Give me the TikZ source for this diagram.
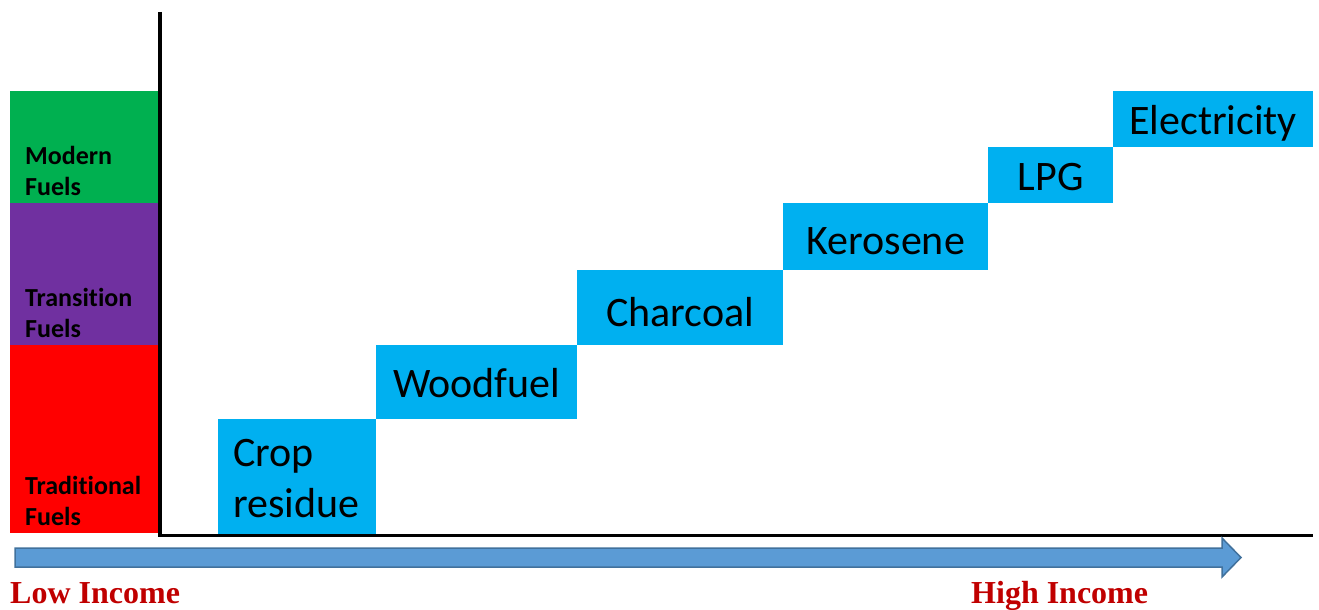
\documentclass[tikz,border=0pt]{standalone}
\usepackage{fontspec}
\newfontfamily\calib[Ligatures=NoCommon]{Carlito}
\newfontfamily\timesf{Liberation Serif}
\definecolor{fgreen}{HTML}{00B050}
\definecolor{fpurple}{HTML}{7030A0}
\definecolor{fred}{HTML}{FF0000}
\definecolor{fcyan}{HTML}{00B0F0}
\definecolor{incred}{HTML}{C00000}
\definecolor{arrowfill}{HTML}{5B9BD5}
\definecolor{arrowedge}{HTML}{41719C}
\begin{document}
\begin{tikzpicture}[x=1pt,y=-1pt,
  band/.style={draw=none, inner sep=0, minimum width=148, anchor=north west},
  fuelbox/.style={fill=fcyan, draw=none, inner sep=0, anchor=north west},
  fueltext/.style={font=\calib\fontsize{42}{51}\selectfont, inner sep=0, text=black},
  bandtext/.style={font=\calib\bfseries\fontsize{26}{31}\selectfont, align=left, inner sep=0, anchor=west},
  incometext/.style={font=\timesf\bfseries\fontsize{32}{36}\selectfont, text=incred, inner sep=0, anchor=base west}]
\useasboundingbox (0,0) rectangle (1319,610);
% bands
\node[band, fill=fgreen, minimum height=112] (modern) at (10,91) {};
\node[band, fill=fpurple, minimum height=142] (transition) at (10,203) {};
\node[band, fill=fred, minimum height=188] (traditional) at (10,345) {};
\node[bandtext] at (25,171) {Modern\\Fuels};
\node[bandtext] at (25,313) {Transition\\Fuels};
\node[bandtext] at (25,501) {Traditional\\Fuels};
% fuel steps
\node[fuelbox, minimum width=158, minimum height=115] (crop) at (218,419) {};
\node[fuelbox, minimum width=201, minimum height=74] (wood) at (376,345) {};
\node[fuelbox, minimum width=206, minimum height=75] (char) at (577,270) {};
\node[fuelbox, minimum width=205, minimum height=67] (kero) at (783,203) {};
\node[fuelbox, minimum width=125, minimum height=56] (lpg) at (988,147) {};
\node[fuelbox, minimum width=200, minimum height=56] (elec) at (1113,91) {};
\node[fueltext, align=left, anchor=west] at ([xshift=15,yshift=-2]crop.west) {Crop\\residue};
\node[fueltext] at ([yshift=-1]wood.center) {Woodfuel};
\node[fueltext] at ([yshift=-4]char.center) {Charcoal};
\node[fueltext] at ([yshift=-4]kero.center) {Kerosene};
\node[fueltext] at ([yshift=-2]lpg.center) {LPG};
\node[fueltext] at ([yshift=-4]elec.center) {Electricity};
% axes
\coordinate (ytop) at (160,12);
\coordinate (origin) at (160,535.5);
\coordinate (xend) at (1313,535.5);
\draw[line width=3.5pt] (ytop) -- (origin) -- (xend);
% income arrow
\coordinate (atail) at (15,557.5);
\coordinate (atip) at (1241,557.5);
\draw[fill=arrowfill, draw=arrowedge, line width=1.5pt, line join=miter]
  (15,548) -- (1222,548) -- (1222,538) -- (atip) -- (1222,577) -- (1222,567) -- (15,567) -- cycle;
\node[incometext] (low) at (10,603) {Low Income};
\node[incometext] (high) at (971,603) {High Income};
\end{tikzpicture}
\end{document}
